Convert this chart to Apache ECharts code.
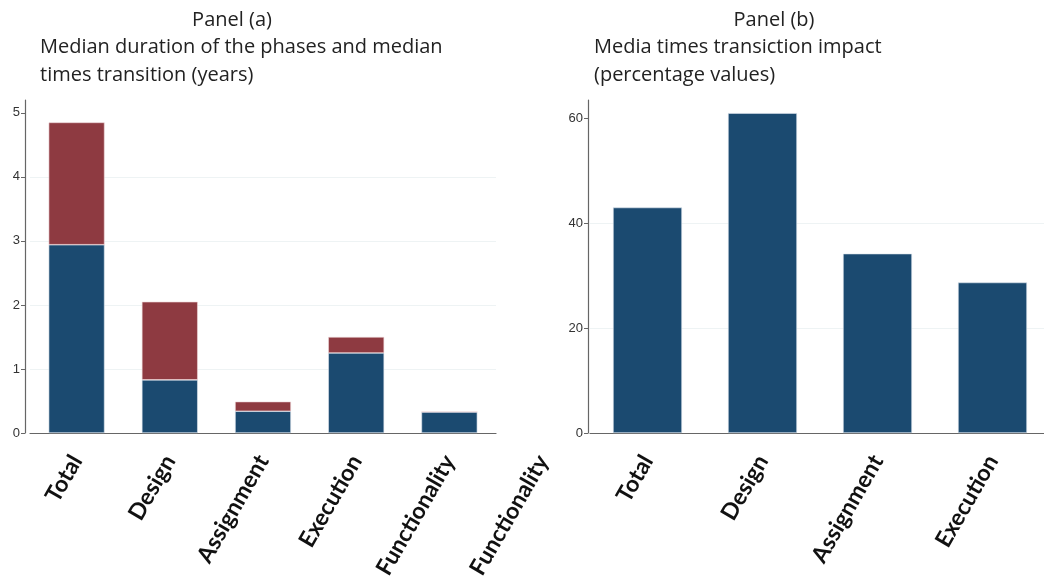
<!DOCTYPE html>
<html>
<head>
<meta charset="utf-8">
<script src="https://cdn.jsdelivr.net/npm/echarts@6/dist/echarts.min.js"></script>
<style>
html,body{margin:0;padding:0;background:#fff;}
#chart{width:1044px;height:579px;}
</style>
</head>
<body>
<div id="chart"></div>
<script>
// Panel (a)
const categoriesA = ['Total', 'Design', 'Assignment', 'Execution', 'Functionality'];
const phaseDuration = [2.94, 0.83, 0.34, 1.25, 0.33];
const transitionTime = [1.91, 1.22, 0.15, 0.25, 0];
const ticksA = [0, 1, 2, 3, 4, 5];
// Panel (b)
const categoriesB = ['Total', 'Design', 'Assignment', 'Execution'];
const impactPct = [43, 61, 34.2, 28.7];
const ticksB = [0, 20, 40, 60];
const strayLabel = 'Functionality';

const BLUE = '#1b4a70';
const RED = '#8e3a41';
const labelFont = {fontFamily: 'Lato', fontWeight: 'bold', fontSize: 23, color: '#111'};
const yLabel = {fontFamily: 'Liberation Sans', fontSize: 13, color: '#333'};
const titleFont = 'Open Sans';
const LABEL_MARGIN = 24;

const chart = echarts.init(document.getElementById('chart'), null, {renderer: 'canvas'});

function yAxisCfg(gridIndex, max, interval, ticks, offset) {
  return {
    type: 'value', gridIndex: gridIndex, min: 0, max: max, interval: interval, offset: offset,
    axisLine: {show: true, lineStyle: {color: '#666', width: 1.2}},
    axisTick: {show: true, length: 4, lineStyle: {color: '#666'}, customValues: ticks},
    axisLabel: Object.assign({margin: 5, customValues: ticks}, yLabel),
    splitLine: {show: true, showMaxLine: false, lineStyle: {color: '#eef3f4', width: 1}}
  };
}
function xAxisCfg(gridIndex, cats) {
  return {
    type: 'category', gridIndex: gridIndex, data: cats,
    axisLine: {show: true, lineStyle: {color: '#666', width: 1.2}},
    axisTick: {show: false},
    axisLabel: Object.assign({rotate: 60, margin: LABEL_MARGIN, interval: 0}, labelFont)
  };
}

const option = {
  animation: false,
  backgroundColor: '#fff',
  grid: [
    {left: 30, width: 466, top: 100, bottom: 146, containLabel: false, outerBoundsMode: 'none'},
    {left: 590, width: 460, top: 100, bottom: 146, containLabel: false, outerBoundsMode: 'none'}
  ],
  xAxis: [xAxisCfg(0, categoriesA), xAxisCfg(1, categoriesB)],
  yAxis: [yAxisCfg(0, 5.2, 1, ticksA, 5), yAxisCfg(1, 63.5, 20, ticksB, 2)],
  series: [
    {type: 'bar', xAxisIndex: 0, yAxisIndex: 0, stack: 'a', data: phaseDuration,
     barCategoryGap: '40%', itemStyle: {color: BLUE, borderColor: '#dfe6ee', borderWidth: 0.6}},
    {type: 'bar', xAxisIndex: 0, yAxisIndex: 0, stack: 'a', data: transitionTime,
     barCategoryGap: '40%', itemStyle: {color: RED, borderColor: '#f0d8da', borderWidth: 0.6}},
    {type: 'bar', xAxisIndex: 1, yAxisIndex: 1, data: impactPct,
     barCategoryGap: '40%', itemStyle: {color: BLUE, borderColor: '#dfe6ee', borderWidth: 0.6}}
  ],
  graphic: [
    {type: 'text', x: 232, y: 20, style: {text: 'Panel (a)', fontFamily: titleFont, fontSize: 20, fill: '#222', align: 'center', verticalAlign: 'middle'}},
    {type: 'text', x: 40, y: 47, style: {text: 'Median duration of the phases and median', fontFamily: titleFont, fontSize: 20, fill: '#222', align: 'left', verticalAlign: 'middle'}},
    {type: 'text', x: 40, y: 75, style: {text: 'times transition (years)', fontFamily: titleFont, fontSize: 20, fill: '#222', align: 'left', verticalAlign: 'middle'}},
    {type: 'text', x: 774, y: 20, style: {text: 'Panel (b)', fontFamily: titleFont, fontSize: 20, fill: '#222', align: 'center', verticalAlign: 'middle'}},
    {type: 'text', x: 594, y: 47, style: {text: 'Media times transiction impact', fontFamily: titleFont, fontSize: 20, fill: '#222', align: 'left', verticalAlign: 'middle'}},
    {type: 'text', x: 594, y: 75, style: {text: '(percentage values)', fontFamily: titleFont, fontSize: 20, fill: '#222', align: 'left', verticalAlign: 'middle'}},
    {type: 'text', x: 543, y: 433 + LABEL_MARGIN, rotation: Math.PI / 3,
     style: {text: strayLabel, fontFamily: 'Lato', fontWeight: 'bold', fontSize: 23, fill: '#111', align: 'right', verticalAlign: 'middle'}}
  ]
};
chart.setOption(option);
</script>
</body>
</html>
